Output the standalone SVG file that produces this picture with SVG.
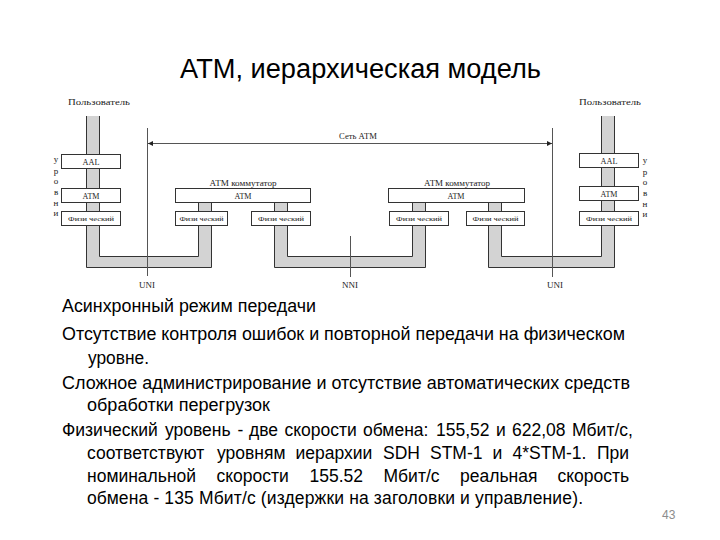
<svg xmlns="http://www.w3.org/2000/svg" width="720" height="540" viewBox="0 0 720 540">
<style>
.bg{fill:#ffffff}
.title{font-family:"Liberation Sans",Arial,sans-serif;font-size:27px;fill:#000}
.body{font-family:"Liberation Sans",Arial,sans-serif;font-size:17.5px;fill:#000}
.pg{font-family:"Liberation Sans",Arial,sans-serif;font-size:12px;fill:#8c8c8c}
.lbl{font-family:"Liberation Serif","Times New Roman",serif;font-size:9px;fill:#222}
.sm{font-family:"Liberation Serif","Times New Roman",serif;font-size:7.5px;fill:#222}
.ph{font-family:"Liberation Serif","Times New Roman",serif;font-size:7px;fill:#222}
.box{fill:#fff;stroke:#333;stroke-width:1}
.bandfill{fill:#d3d3d3;stroke:none}
.bandline{fill:none;stroke:#333;stroke-width:1}
.ref{fill:none;stroke:#555;stroke-width:1}
</style>
<defs>
<marker id="ah" viewBox="0 0 8 8" refX="8" refY="4" markerWidth="5" markerHeight="5" markerUnits="userSpaceOnUse" orient="auto-start-reverse">
<path d="M0,0 L8,4 L0,8 z" fill="#222"/>
</marker>
</defs>
<rect class="bg" x="0" y="0" width="720" height="540"/>

<text class="title" x="180" y="78" textLength="361" lengthAdjust="spacingAndGlyphs">ATM, иерархическая модель</text>

<g id="connectors">
  <path class="bandfill" d="M86.5,116 V267.5 H211.5 V202 H198.5 V256.5 H99.5 V116 Z"/>
  <path class="bandline" d="M86.5,116 V267.5 H211.5 V202"/>
  <path class="bandline" d="M99.5,116 V256.5 H198.5 V202"/>
  <path class="bandfill" d="M274.5,202 V267.5 H425.5 V202 H412.5 V256.5 H287.5 V202 Z"/>
  <path class="bandline" d="M274.5,202 V267.5 H425.5 V202"/>
  <path class="bandline" d="M287.5,202 V256.5 H412.5 V202"/>
  <path class="bandfill" d="M488.5,202 V267.5 H614.5 V116 H601.5 V256.5 H501.5 V202 Z"/>
  <path class="bandline" d="M488.5,202 V267.5 H614.5 V116"/>
  <path class="bandline" d="M501.5,202 V256.5 H601.5 V116"/>
  <line class="ref" x1="147.5" y1="128" x2="147.5" y2="276"/>
  <line class="ref" x1="552.5" y1="128" x2="552.5" y2="277"/>
  <line class="ref" x1="350.5" y1="236" x2="350.5" y2="277"/>
  <line class="ref" x1="148" y1="143.5" x2="552" y2="143.5" marker-start="url(#ah)" marker-end="url(#ah)"/>
</g>

<g id="labels">
  <text class="lbl" x="358" y="139" text-anchor="middle" textLength="38" lengthAdjust="spacingAndGlyphs">Сеть АТМ</text>
  <text class="lbl" x="147" y="288" text-anchor="middle">UNI</text>
  <text class="lbl" x="350" y="288" text-anchor="middle">NNI</text>
  <text class="lbl" x="555" y="288" text-anchor="middle">UNI</text>
</g>

<g id="user-left">
  <text class="lbl" x="68" y="105" textLength="62" lengthAdjust="spacingAndGlyphs">Пользователь</text>
  <g class="lbl" text-anchor="middle">
    <text x="56" y="162">у</text>
    <text x="56" y="174">р</text>
    <text x="56" y="184">о</text>
    <text x="56" y="195">в</text>
    <text x="56" y="206">н</text>
    <text x="56" y="216">и</text>
  </g>
  <rect class="box" x="61.5" y="154.5" width="59" height="14"/>
  <text class="sm" x="91" y="164.5" text-anchor="middle" textLength="17" lengthAdjust="spacingAndGlyphs">AAL</text>
  <rect class="box" x="61.5" y="188.5" width="59" height="14"/>
  <text class="sm" x="91" y="198.5" text-anchor="middle" textLength="17" lengthAdjust="spacingAndGlyphs">ATM</text>
  <rect class="box" x="61.5" y="211.5" width="59" height="14"/>
  <text class="ph" x="91" y="221" text-anchor="middle" textLength="46" lengthAdjust="spacingAndGlyphs">Физи ческий</text>
</g>

<g id="switch-left">
  <text class="sm" x="243" y="186" text-anchor="middle" textLength="67" lengthAdjust="spacingAndGlyphs">АТМ коммутатор</text>
  <rect class="box" x="175.5" y="188.5" width="135" height="14"/>
  <text class="sm" x="243" y="198.5" text-anchor="middle" textLength="17" lengthAdjust="spacingAndGlyphs">ATM</text>
  <rect class="box" x="175.5" y="211.5" width="52" height="14"/>
  <text class="ph" x="201.5" y="221" text-anchor="middle" textLength="44" lengthAdjust="spacingAndGlyphs">Физи ческий</text>
  <rect class="box" x="251.5" y="211.5" width="59" height="14"/>
  <text class="ph" x="281" y="221" text-anchor="middle" textLength="46" lengthAdjust="spacingAndGlyphs">Физи ческий</text>
</g>

<g id="switch-right">
  <text class="sm" x="457" y="186" text-anchor="middle" textLength="66" lengthAdjust="spacingAndGlyphs">АТМ коммутатор</text>
  <rect class="box" x="388.5" y="188.5" width="136" height="14"/>
  <text class="sm" x="456" y="198.5" text-anchor="middle" textLength="17" lengthAdjust="spacingAndGlyphs">ATM</text>
  <rect class="box" x="389.5" y="211.5" width="59" height="14"/>
  <text class="ph" x="419" y="221" text-anchor="middle" textLength="46" lengthAdjust="spacingAndGlyphs">Физи ческий</text>
  <rect class="box" x="466.5" y="211.5" width="58" height="14"/>
  <text class="ph" x="495.5" y="221" text-anchor="middle" textLength="46" lengthAdjust="spacingAndGlyphs">Физи ческий</text>
</g>

<g id="user-right">
  <text class="lbl" x="579" y="105" textLength="62" lengthAdjust="spacingAndGlyphs">Пользователь</text>
  <g class="lbl" text-anchor="middle">
    <text x="645" y="163">у</text>
    <text x="645" y="175">р</text>
    <text x="645" y="185">о</text>
    <text x="645" y="196">в</text>
    <text x="645" y="207">н</text>
    <text x="645" y="217">и</text>
  </g>
  <rect class="box" x="579.5" y="153.5" width="59" height="14"/>
  <text class="sm" x="609" y="163.5" text-anchor="middle" textLength="17" lengthAdjust="spacingAndGlyphs">AAL</text>
  <rect class="box" x="579.5" y="186.5" width="59" height="14"/>
  <text class="sm" x="609" y="196.5" text-anchor="middle" textLength="17" lengthAdjust="spacingAndGlyphs">ATM</text>
  <rect class="box" x="579.5" y="211.5" width="59" height="14"/>
  <text class="ph" x="609" y="221" text-anchor="middle" textLength="46" lengthAdjust="spacingAndGlyphs">Физи ческий</text>
</g>

<g id="text-body" class="body">
  <text x="62" y="312" textLength="254" lengthAdjust="spacingAndGlyphs">Асинхронный режим передачи</text>
  <text x="62" y="340" textLength="563" lengthAdjust="spacingAndGlyphs">Отсутствие контроля ошибок и повторной передачи на физическом</text>
  <text x="88" y="364" textLength="61" lengthAdjust="spacingAndGlyphs">уровне.</text>
  <text x="62" y="389" textLength="568" lengthAdjust="spacingAndGlyphs">Сложное администрирование и отсутствие автоматических средств</text>
  <text x="87" y="411" textLength="183" lengthAdjust="spacingAndGlyphs">обработки перегрузок</text>
  <text y="436"><tspan x="62">Физический</tspan><tspan x="165">уровень</tspan><tspan x="237.5">-</tspan><tspan x="249">две</tspan><tspan x="284.5">скорости</tspan><tspan x="363">обмена:</tspan><tspan x="436">155,52</tspan><tspan x="496">и</tspan><tspan x="512">622,08</tspan><tspan x="572">Мбит/с,</tspan></text>
  <text y="459"><tspan x="87">соответствуют</tspan><tspan x="217">уровням</tspan><tspan x="295.5">иерархии</tspan><tspan x="383">SDH</tspan><tspan x="430">STM-1</tspan><tspan x="492.5">и</tspan><tspan x="512.5">4*STM-1.</tspan><tspan x="597">При</tspan></text>
  <text y="482"><tspan x="87">номинальной</tspan><tspan x="216.5">скорости</tspan><tspan x="309.5">155.52</tspan><tspan x="383.5">Мбит/с</tspan><tspan x="460">реальная</tspan><tspan x="557.5">скорость</tspan></text>
  <text x="87" y="504" textLength="496">обмена - 135 Мбит/с (издержки на заголовки и управление).</text>
</g>

<text class="pg" x="662" y="519">43</text>
</svg>
